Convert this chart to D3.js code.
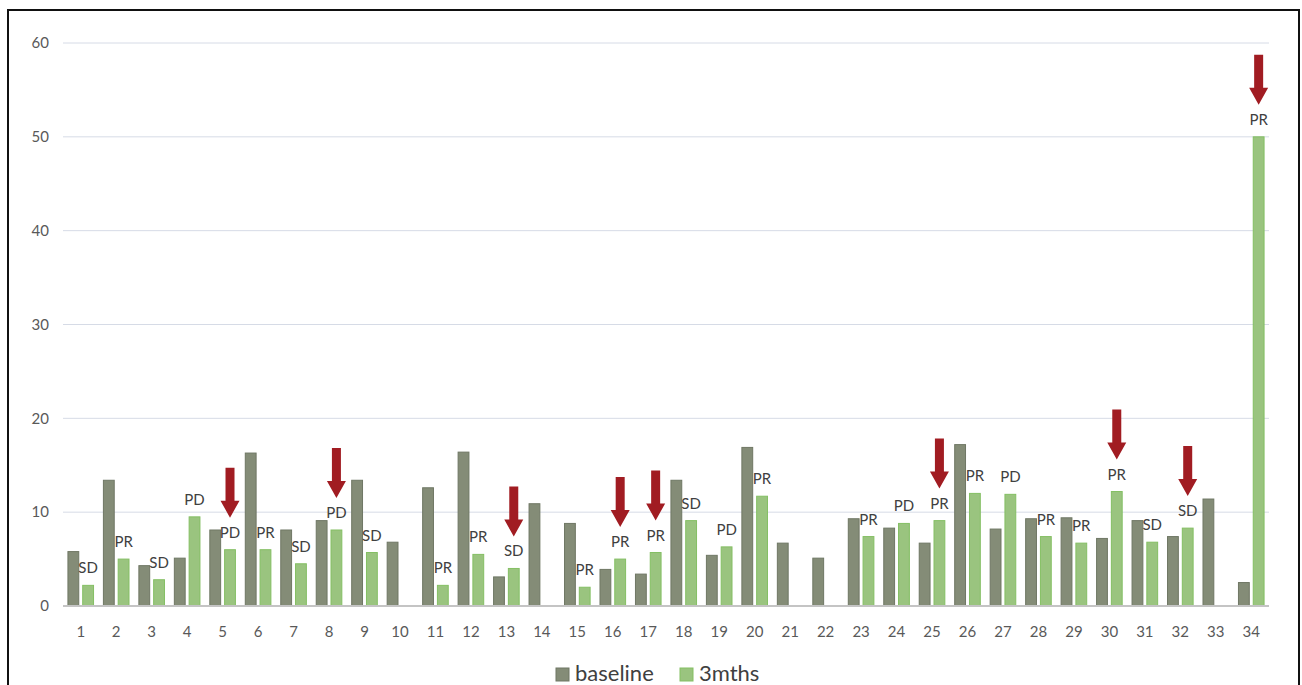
<!DOCTYPE html>
<html>
<head>
<meta charset="utf-8">
<script src="https://cdn.jsdelivr.net/npm/d3@7"></script>
<style>
  html, body { margin: 0; padding: 0; background: #ffffff; }
  svg { display: block; }
</style>
</head>
<body>
<svg id="chart" width="1302" height="685"></svg>
<script>
// Patient numbers along the x axis
const categories = d3.range(1, 35).map(String);
// Series names
const seriesNames = ["baseline", "3mths"];
// Measured values at baseline and after three months (null = no value)
const baseline = [5.8, 13.4, 4.3, 5.1, 8.1, 16.3, 8.1, 9.1, 13.4, 6.8, 12.6, 16.4, 3.1, 10.9, 8.8, 3.9, 3.4,
                  13.4, 5.4, 16.9, 6.7, 5.1, 9.3, 8.3, 6.7, 17.2, 8.2, 9.3, 9.4, 7.2, 9.1, 7.4, 11.4, 2.5];
const threeMonths = [2.2, 5.0, 2.8, 9.5, 6.0, 6.0, 4.5, 8.1, 5.7, null, 2.2, 5.5, 4.0, null, 2.0, 5.0, 5.7,
                     9.1, 6.3, 11.7, null, null, 7.4, 8.8, 9.1, 12.0, 11.9, 7.4, 6.7, 12.2, 6.8, 8.3, null, 50];
// Response category written above each 3-month bar
const responses = ["SD", "PR", "SD", "PD", "PD", "PR", "SD", "PD", "SD", "", "PR", "PR", "SD", "", "PR", "PR", "PR",
                   "SD", "PD", "PR", "", "", "PR", "PD", "PR", "PR", "PD", "PR", "PR", "PR", "SD", "SD", "", "PR"];
// Patients highlighted with an arrow
const highlighted = ["5", "8", "13", "16", "17", "25", "30", "32", "34"];
// Y axis ticks
const yTicks = [0, 10, 20, 30, 40, 50, 60];

const colors = { baseline: "#848c77", "3mths": "#9ac47f" };
const strokes = { baseline: "#6f7764", "3mths": "#84bf63" };
const textFont = "Lato, 'Open Sans', sans-serif";

const svg = d3.select("#chart");

// Outer frame
svg.append("rect")
  .attr("x", 8).attr("y", 10).attr("width", 1291).attr("height", 700)
  .attr("fill", "#ffffff").attr("stroke", "#111111").attr("stroke-width", 2);

const x = d3.scaleBand().domain(categories).range([63, 1269]).padding(0);
const x1 = d3.scaleBand().domain(seriesNames).range([0, x.bandwidth()])
  .paddingInner(0.2).paddingOuter(0.3);
const y = d3.scaleLinear().domain([0, 60]).range([606, 43]);

// Horizontal gridlines
svg.append("g")
  .selectAll("line")
  .data(yTicks.filter(t => t > 0))
  .join("line")
  .attr("x1", 63).attr("x2", 1269)
  .attr("y1", d => y(d)).attr("y2", d => y(d))
  .attr("stroke", "#d6dbe6").attr("stroke-width", 1);

// Y axis labels
const yAxis = d3.axisLeft(y).tickValues(yTicks).tickSize(0).tickPadding(0);
svg.append("g")
  .attr("transform", "translate(49,0)")
  .call(yAxis)
  .call(g => g.select(".domain").remove())
  .call(g => g.selectAll("text")
    .attr("fill", "#595959")
    .attr("font-family", textFont)
    .attr("font-size", 15));

const rows = categories.map((c, i) => ({
  cat: c,
  baseline: baseline[i],
  "3mths": threeMonths[i],
  response: responses[i]
}));

// Bars
const groups = svg.append("g")
  .selectAll("g")
  .data(rows)
  .join("g")
  .attr("transform", d => `translate(${x(d.cat)},0)`);

groups.selectAll("rect")
  .data(d => seriesNames.filter(s => d[s] != null).map(s => ({ key: s, value: d[s] })))
  .join("rect")
  .attr("x", d => x1(d.key) + 0.5)
  .attr("y", d => y(d.value))
  .attr("width", x1.bandwidth() - 1)
  .attr("height", d => y(0) - y(d.value))
  .attr("fill", d => colors[d.key])
  .attr("stroke", d => strokes[d.key])
  .attr("stroke-width", 1);

// Zero axis line
svg.append("line")
  .attr("x1", 63).attr("x2", 1269)
  .attr("y1", y(0)).attr("y2", y(0))
  .attr("stroke", "#c4c4c4").attr("stroke-width", 2);

// X axis labels
const xAxis = d3.axisBottom(x).tickSize(0).tickPadding(0);
svg.append("g")
  .attr("transform", `translate(0,${y(0) + 20})`)
  .call(xAxis)
  .call(g => g.select(".domain").remove())
  .call(g => g.selectAll("text")
    .attr("fill", "#595959")
    .attr("font-family", textFont)
    .attr("font-size", 15));

// Response labels above the 3-month bars
svg.append("g")
  .selectAll("text")
  .data(rows.filter(d => d.response && d["3mths"] != null))
  .join("text")
  .attr("x", d => x(d.cat) + x1("3mths") + x1.bandwidth() / 2)
  .attr("y", d => y(d["3mths"]) - 12)
  .attr("text-anchor", "middle")
  .attr("fill", "#404040")
  .attr("font-family", textFont)
  .attr("font-size", 15)
  .text(d => d.response);

// Down arrows over highlighted patients
const arrowLen = 50, headLen = 17, headHalf = 9.5, shaftHalf = 4.5;
svg.append("g")
  .selectAll("path")
  .data(rows.filter(d => highlighted.includes(d.cat)))
  .join("path")
  .attr("transform", d => {
    const cx = x(d.cat) + x1("3mths") + x1.bandwidth() / 2;
    const tip = y(d["3mths"]) - 32;
    return `translate(${cx},${tip})`;
  })
  .attr("d", () => {
    const p = d3.path();
    p.moveTo(-shaftHalf, -arrowLen);
    p.lineTo(shaftHalf, -arrowLen);
    p.lineTo(shaftHalf, -headLen);
    p.lineTo(headHalf, -headLen);
    p.lineTo(0, 0);
    p.lineTo(-headHalf, -headLen);
    p.lineTo(-shaftHalf, -headLen);
    p.closePath();
    return p.toString();
  })
  .attr("fill", "#a11c22");

// Legend
const legend = svg.append("g").attr("transform", "translate(556,668)");
const legendItems = [
  { key: "baseline", x: 0 },
  { key: "3mths", x: 124 }
];
legendItems.forEach(item => {
  const g = legend.append("g").attr("transform", `translate(${item.x},0)`);
  g.append("rect")
    .attr("width", 13).attr("height", 13)
    .attr("fill", colors[item.key]).attr("stroke", strokes[item.key]);
  g.append("text")
    .attr("x", 19).attr("y", 13)
    .attr("fill", "#404040")
    .attr("font-family", textFont)
    .attr("font-size", 22)
    .text(item.key);
});
</script>
</body>
</html>
